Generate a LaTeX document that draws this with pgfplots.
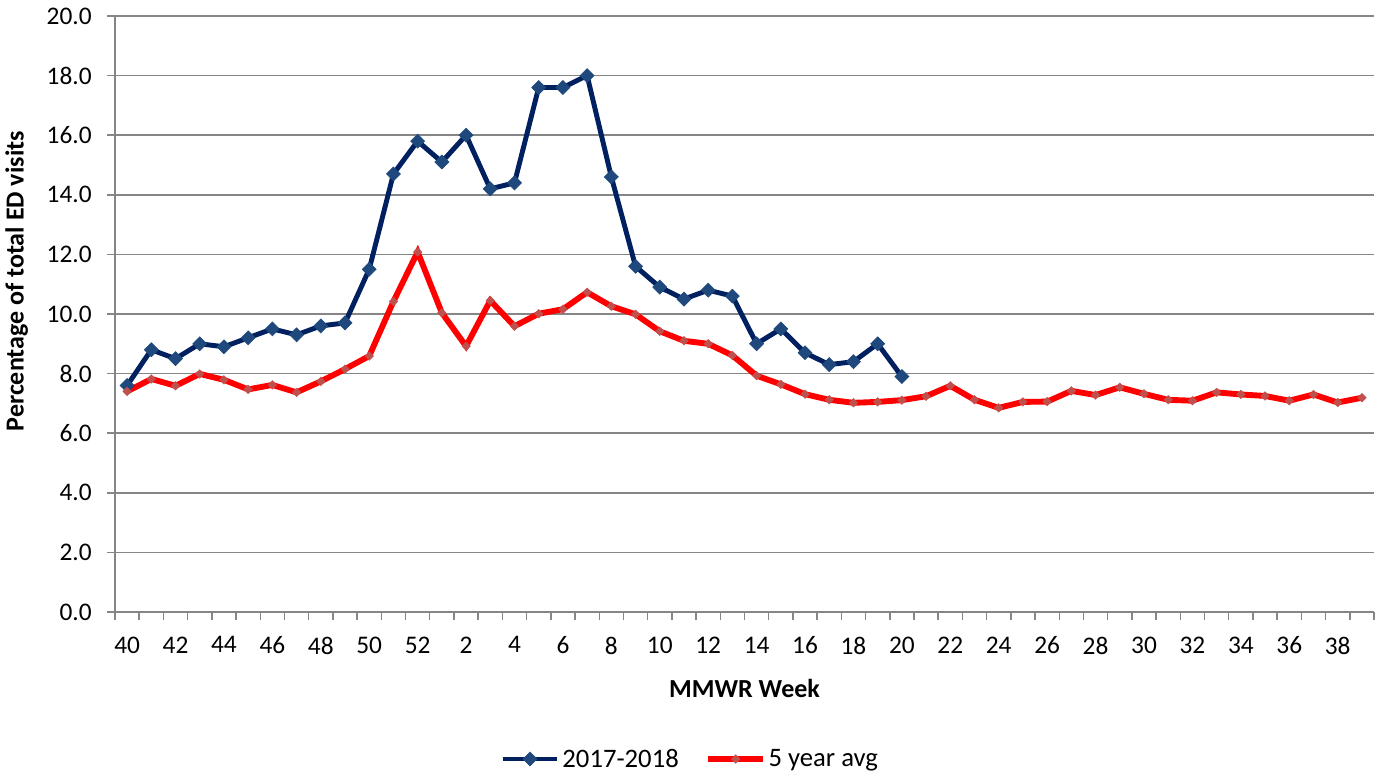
\documentclass[border=0pt]{standalone}
\usepackage{pgfplots}
\pgfplotsset{compat=1.18}
\usepackage{fontspec}
\setmainfont{Carlito}
\definecolor{navyline}{HTML}{002060}
\definecolor{navymark}{HTML}{1F497D}
\definecolor{redline}{HTML}{FF0000}
\definecolor{redmark}{HTML}{C0504D}
\definecolor{gridgray}{HTML}{868686}
\begin{document}
\begin{tikzpicture}[x=1pt,y=1pt]
\useasboundingbox (-86.25,-123.75) rectangle (951.75,459);
\begin{axis}[
  at={(0,0)}, anchor=south west,
  scale only axis, width=944.25pt, height=447pt,
  xmin=-0.5, xmax=51.5, ymin=0, ymax=20,
  axis lines*=left,
  axis line style={gridgray, line width=1.1pt},
  tick align=outside,
  major tick length=6pt,
  tick style={gridgray, line width=1.1pt},
  ymajorgrids,
  major grid style={gridgray, line width=1.1pt},
  ytick={0,2,...,20},
  yticklabel style={xshift=-8pt, /pgf/number format/.cd,fixed,fixed zerofill,precision=1,assume math mode=true},
  xtick={-0.5,0.5,...,51.5},
  xticklabels={40,,42,,44,,46,,48,,50,,52,,2,,4,,6,,8,,10,,12,,14,,16,,18,,20,,22,,24,,26,,28,,30,,32,,34,,36,,38,,},
  xticklabel style={xshift=9.09pt, yshift=-9pt},
  ticklabel style={font=\fontsize{19}{23}\selectfont},
  xlabel={\textbf{MMWR Week}},
  ylabel={\textbf{Percentage of total ED visits}},
  label style={font=\fontsize{19.5}{23}\selectfont},
  xlabel style={at={(axis description cs:0.5,-0.1275)}, anchor=center},
  ylabel style={at={(axis description cs:-0.078,0.555)}, anchor=center},
  legend columns=2,
  legend style={draw=none, fill=none, at={(axis description cs:0.457,-0.2466)}, anchor=center,
    font=\fontsize{20}{24}\selectfont,
    /tikz/every even column/.append style={column sep=18pt}},
  legend image code/.code={\draw[#1,mark repeat=2,mark phase=2] plot coordinates {(0pt,0pt) (20.5pt,0pt) (41pt,0pt)};},
  clip=false,
]
\addplot[navyline, line width=3.7pt, mark=square*, mark size=3.7pt,
  mark options={rotate=45, fill=navymark, draw=navymark, line width=0.5pt, solid}]
coordinates {
(0,7.6) (1,8.8) (2,8.5) (3,9.0) (4,8.9) (5,9.2) (6,9.5) (7,9.3) (8,9.6) (9,9.7)
(10,11.5) (11,14.7) (12,15.8) (13,15.1) (14,16.0) (15,14.2) (16,14.4) (17,17.6)
(18,17.6) (19,18.0) (20,14.6) (21,11.6) (22,10.9) (23,10.5) (24,10.8) (25,10.6)
(26,9.0) (27,9.5) (28,8.7) (29,8.3) (30,8.4) (31,9.0) (32,7.9)
};
\addlegendentry{2017-2018}
\addplot[redline, line width=4.4pt, mark=square*, mark size=2.3pt,
  mark options={rotate=45, fill=redmark, draw=redmark, line width=0.3pt, solid}]
coordinates {
(0,7.40) (1,7.82) (2,7.59) (3,7.99) (4,7.79) (5,7.47) (6,7.62) (7,7.37) (8,7.74)
(9,8.15) (10,8.59) (11,10.42) (12,12.08) (13,10.04) (14,8.92) (15,10.45) (16,9.59)
(17,10.01) (18,10.16) (19,10.73) (20,10.26) (21,9.99) (22,9.42) (23,9.10) (24,9.00)
(25,8.61) (26,7.93) (27,7.64) (28,7.31) (29,7.12) (30,7.02) (31,7.05) (32,7.11)
(33,7.24) (34,7.59) (35,7.12) (36,6.85) (37,7.05) (38,7.06) (39,7.42) (40,7.28)
(41,7.54) (42,7.32) (43,7.12) (44,7.09) (45,7.37) (46,7.30) (47,7.25) (48,7.09)
(49,7.30) (50,7.03) (51,7.19)
};
\addlegendentry{5 year avg}
\end{axis}
\end{tikzpicture}
\end{document}
